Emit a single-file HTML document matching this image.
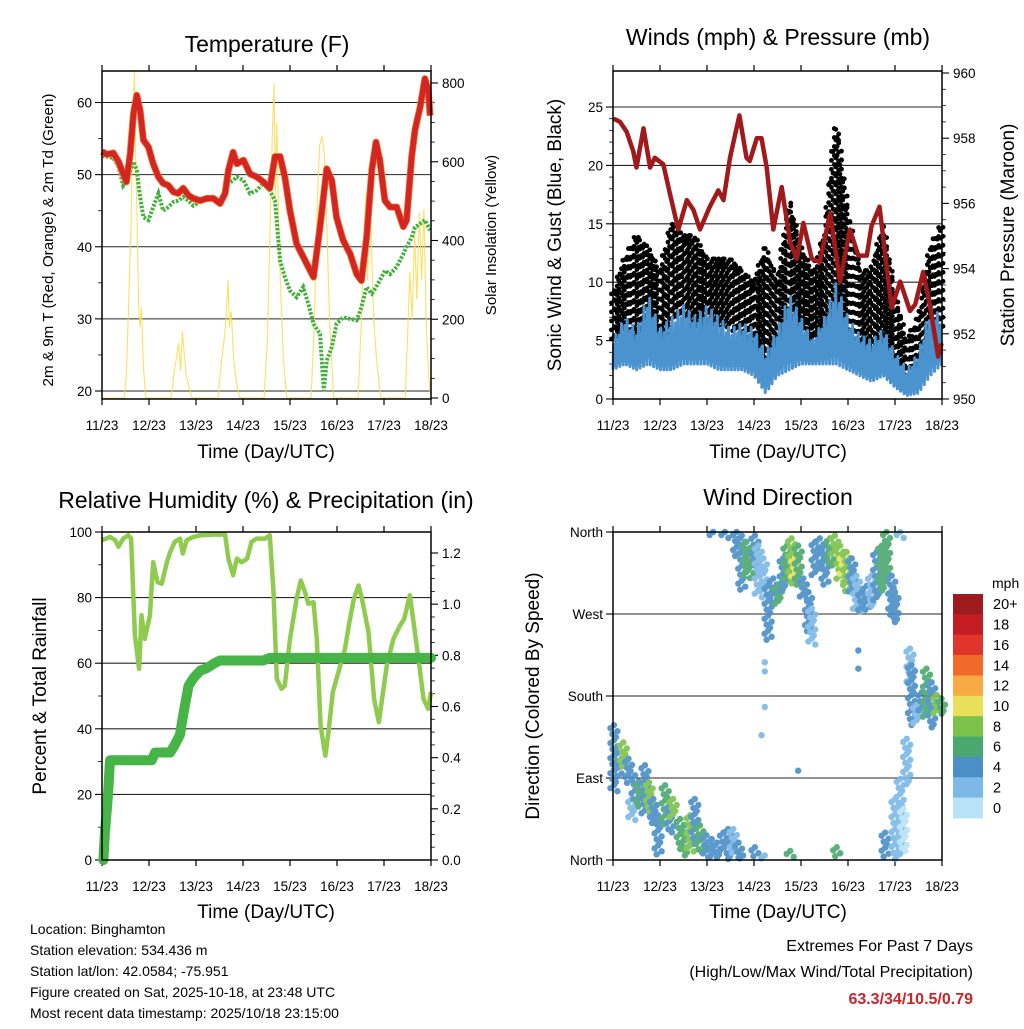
<!DOCTYPE html>
<html><head><meta charset="utf-8">
<style>
body{margin:0;background:#fff;}
svg text{font-family:"Liberation Sans",sans-serif;fill:#000;}
</style></head>
<body>
<svg id="c" width="1024" height="1024" viewBox="0 0 1024 1024" xmlns="http://www.w3.org/2000/svg">
<rect width="1024" height="1024" fill="#fff"/>
<text x="267" y="52" font-size="23" text-anchor="middle">Temperature (F)</text>
<text x="778" y="45" font-size="23" text-anchor="middle">Winds (mph) &amp; Pressure (mb)</text>
<text x="266" y="508" font-size="23" text-anchor="middle">Relative Humidity (%) &amp; Precipitation (in)</text>
<text x="778" y="505" font-size="23" text-anchor="middle">Wind Direction</text>
<text x="266" y="458" font-size="19" text-anchor="middle">Time (Day/UTC)</text>
<text x="778" y="458" font-size="19" text-anchor="middle">Time (Day/UTC)</text>
<text x="266" y="918" font-size="19" text-anchor="middle">Time (Day/UTC)</text>
<text x="778" y="918" font-size="19" text-anchor="middle">Time (Day/UTC)</text>
<text transform="translate(53,240) rotate(-90)" font-size="15.2" text-anchor="middle">2m &amp; 9m T (Red, Orange) &amp; 2m Td (Green)</text>
<text transform="translate(496,235) rotate(-90)" font-size="15" text-anchor="middle">Solar Insolation (Yellow)</text>
<text transform="translate(561,235) rotate(-90)" font-size="19" text-anchor="middle">Sonic Wind &amp; Gust (Blue, Black)</text>
<text transform="translate(1014,235) rotate(-90)" font-size="19" text-anchor="middle">Station Pressure (Maroon)</text>
<text transform="translate(46,696) rotate(-90)" font-size="19" text-anchor="middle">Percent &amp; Total Rainfall</text>
<text transform="translate(539,696) rotate(-90)" font-size="19" text-anchor="middle">Direction (Colored By Speed)</text>
<g font-size="14">
<text x="30" y="934">Location: Binghamton</text>
<text x="30" y="955">Station elevation: 534.436 m</text>
<text x="30" y="976">Station lat/lon: 42.0584; -75.951</text>
<text x="30" y="997">Figure created on Sat, 2025-10-18, at 23:48 UTC</text>
<text x="30" y="1018">Most recent data timestamp: 2025/10/18 23:15:00</text>
</g>
<g font-size="16" text-anchor="end">
<text x="973" y="951">Extremes For Past 7 Days</text>
<text x="973" y="977">(High/Low/Max Wind/Total Precipitation)</text>
<text x="973" y="1004" font-weight="bold" style="fill:#c8262a">63.3/34/10.5/0.79</text>
</g>
</svg>
<script>
// ---------- DATA ----------
const dayLabels = ["11/23","12/23","13/23","14/23","15/23","16/23","17/23","18/23"];
const tempTicks = [20,30,40,50,60];
const solarTicks = [0,200,400,600,800];
const windTicks = [0,5,10,15,20,25];
const pressTicks = [950,952,954,956,958,960];
const rhTicks = [0,20,40,60,80,100];
const precipTicks = [0.0,0.2,0.4,0.6,0.8,1.0,1.2];
const dirTicks = ["North","East","South","West","North"];
const speedBins = ["0","2","4","6","8","10","12","14","16","18","20+"];

const tempTimes = [0,0.10,0.24,0.35,0.45,0.52,0.60,0.67,0.74,0.81,0.88,0.99,1.09,1.20,1.30,1.41,1.52,1.62,1.73,1.84,1.94,2.09,2.23,2.37,2.51,2.62,2.69,2.79,2.87,3.01,3.15,3.29,3.43,3.57,3.68,3.79,3.89,4.0,4.14,4.28,4.39,4.50,4.64,4.78,4.89,4.99,5.13,5.28,5.42,5.52,5.63,5.74,5.83,5.91,6.02,6.13,6.27,6.41,6.48,6.59,6.66,6.77,6.87,6.94,6.98];
const tempVals = [53.2,52.8,53,51.8,50.1,49,52.9,58.5,61,58.9,54.8,53.8,51.5,49.7,48.8,48.5,47.6,47.4,48.1,47.1,46.7,46.4,46.7,46.7,46,47.4,50.6,53.1,51.5,52,50.1,49.7,49,48.1,52.5,52.5,49.7,45,40.4,38.6,37.2,35.8,42.8,50.8,49.2,44.1,40.9,39,36.2,35.3,41.3,50.6,54.5,52,46.4,45.5,45.5,42.8,43.7,52.5,56.2,59.4,63.3,61.7,58.2];
const dewTimes = [0,0.10,0.24,0.35,0.45,0.52,0.60,0.67,0.74,0.81,0.88,0.99,1.09,1.20,1.30,1.41,1.52,1.62,1.73,1.84,1.94,2.09,2.23,2.37,2.51,2.62,2.69,2.79,2.87,3.01,3.15,3.29,3.43,3.57,3.68,3.79,3.89,4.0,4.14,4.28,4.39,4.50,4.64,4.72,4.78,4.89,4.99,5.13,5.28,5.42,5.52,5.63,5.74,5.83,5.91,6.02,6.13,6.27,6.41,6.48,6.59,6.66,6.77,6.87,6.98];
const dewVals = [52.6,52.5,52.3,51.1,48.5,49.2,50.6,51.8,50.6,46.9,44.1,43.7,45.5,47.4,45,45.5,46.2,46.4,46.9,46.4,45.7,46.2,46.5,46.7,46,47.8,48.8,49.2,49.7,49.2,47.4,47.8,48.8,47.8,46.4,38.1,35.8,33.9,33,34.4,32.1,29.3,27.9,20,24.2,26.1,29.3,30.2,30,29.8,31.6,34.4,33.5,34.4,35.3,36.7,36.2,37.2,39,40,41.3,42.7,43.2,43.7,42.3];
const solarTimes = [0,0.47,0.52,0.57,0.62,0.66,0.69,0.72,0.75,0.78,0.81,0.84,0.88,0.93,1.47,1.53,1.58,1.63,1.67,1.71,1.75,1.79,1.85,1.92,2.47,2.53,2.6,2.64,2.68,2.71,2.75,2.8,2.86,2.93,3.45,3.52,3.57,3.62,3.66,3.69,3.72,3.76,3.8,3.86,3.93,4.45,4.52,4.58,4.63,4.68,4.73,4.78,4.84,4.93,5.45,5.52,5.57,5.62,5.65,5.7,5.74,5.78,5.84,5.93,6.45,6.5,6.55,6.6,6.65,6.7,6.75,6.8,6.85,6.9,6.95,7];
const solarVals = [0,0,60,250,450,700,830,600,420,230,180,230,80,0,0,60,100,140,70,170,110,60,30,0,0,80,150,200,300,180,220,100,40,0,0,150,400,650,800,500,700,450,280,100,0,0,200,500,640,665,620,450,200,0,0,200,400,520,300,540,350,200,100,0,0,150,320,200,420,250,470,300,480,180,50,0];

const pressTimes = [0.01,0.15,0.29,0.43,0.50,0.65,0.79,0.89,1.07,1.21,1.39,1.57,1.71,1.85,2.06,2.24,2.35,2.49,2.69,2.84,2.91,3.06,3.16,3.27,3.41,3.59,3.77,3.91,4.05,4.23,4.40,4.62,4.83,5.04,5.22,5.40,5.50,5.67,5.82,5.93,6.11,6.32,6.43,6.60,6.74,6.92,6.99];
const pressVals = [958.6,958.5,958.2,957.6,957.1,958.3,957.1,957.4,957.2,956.3,955.2,956.1,955.8,955.2,955.9,956.4,956.1,957.4,958.7,957.4,957.3,958,958,957.1,955.2,956.5,954.8,954.3,955.4,954.3,954.2,955.7,953.6,955.2,954.4,954.4,955.3,955.9,954.1,952.8,953.6,952.7,952.9,953.9,952.9,951.3,951.7];
const windTimes = [0,0.25,0.5,0.75,1,1.25,1.5,1.75,2,2.25,2.5,2.75,3,3.25,3.5,3.75,4,4.25,4.5,4.75,5,5.25,5.5,5.75,6,6.25,6.5,6.75,7];
const windHi = [5,7,6,9,6,7,8,7,8,7,6,6.5,6,4,6,9,7,5,7,10,7,5.5,5,6,4,2.5,4,8,7];
const windLo = [2.5,3,2.5,3,2.5,2.5,3,3,3,2.5,2.5,2.5,2,0.5,2,2.5,3,3,3,3,2.5,2,1.5,2,1,0.3,0.5,2,3];
const gustHi = [9,12,14,13,11,15,14,14,12,12,12,11,10,13,10,17,13,11,14,24,16,11,11,15,9,5,7,13,15];
const gustLo = [5,6,5,5,4,7,7,6,6,6,6,5,4,1,4,6,6,5,6,7,5,4,3,4,2,1,1,5,6];

const rhTimes = [0,0.17,0.28,0.35,0.45,0.56,0.62,0.70,0.79,0.84,0.91,1.02,1.09,1.18,1.27,1.38,1.45,1.55,1.66,1.72,1.80,1.94,2.09,2.37,2.62,2.69,2.79,2.87,2.97,3.09,3.18,3.29,3.47,3.57,3.65,3.72,3.82,3.89,4.0,4.14,4.23,4.32,4.39,4.50,4.57,4.65,4.75,4.82,4.91,5.17,5.25,5.36,5.46,5.53,5.67,5.79,5.89,6.06,6.20,6.34,6.43,6.55,6.62,6.77,6.84,6.94,7.0];
const rhVals = [97.5,98.5,97.5,95.5,98,99,98,68.5,58.3,74.6,67.4,74.6,90.8,84.7,84.2,90.8,93.9,97,98,93.4,97.5,98.5,99,99.2,99.2,91.9,86.8,91.9,90.8,91.9,97,98,98,99,81.7,55.2,52.2,53.2,67.4,79.7,85.2,81.7,78.1,78.6,67.4,41,31.8,39,51.2,64.4,71.5,79.7,83.7,79.7,69.5,49.1,42,59.3,67.4,71.5,73.5,80.7,73.5,57.3,49.1,46.1,51.2];
const precipTimes = [0.03,0.06,0.13,0.17,1.06,1.13,1.45,1.55,1.66,1.73,1.84,1.94,2.09,2.23,2.40,2.51,3.43,3.57,7.0];
const precipVals = [0,0.1,0.26,0.39,0.39,0.42,0.42,0.45,0.49,0.57,0.68,0.71,0.74,0.75,0.77,0.78,0.78,0.79,0.79];

const dirTimes = [0.02,0.11,0.22,0.33,0.40,0.47,0.57,0.68,0.77,0.86,0.96,1.11,1.21,1.28,1.43,1.53,1.64,1.74,1.85,1.99,2.10,2.21,2.35,2.45,2.56,2.67,2.77,3.02,3.23,3.77,4.76,5.79,6.0,6.11,6.18,6.25,6.32,6.35,6.46,6.57,6.67,6.78,6.89,6.99,
 2.13,2.38,2.63,2.74,2.84,2.91,3.02,3.09,3.2,3.30,3.41,3.52,3.62,3.70,3.80,3.87,3.94,4.05,4.16,4.23,4.30,4.40,4.51,4.62,4.72,4.83,4.90,4.97,5.08,5.18,5.29,5.40,5.50,5.61,5.72,5.82,5.93,6.0,6.11,
 3.23,3.23,3.23,3.16,3.94,5.22,5.22];
const dirLow = [74,89,100,82,41,63,56,49,49,38,5,38,30,45,12,5,8,16,8,1,1,1,5,1,5,1,1,1,1,1,1,3,1,5,8,82,192,148,148,159,155,144,159,159,
 356,353,331,294,309,312,323,290,287,239,280,280,294,305,301,309,301,283,250,235,312,320,301,323,331,305,309,294,294,272,272,272,276,283,294,305,265,261,353,
 217,207,168,137,98,230,210];
const dirHigh = [148,118,129,111,67,93,85,104,85,67,49,82,60,67,45,38,49,67,38,27,23,19,30,34,34,19,5,14,5,10,14,30,67,89,56,133,232,214,170,184,210,195,181,177,
 360,360,360,356,349,338,356,345,331,301,309,301,331,345,353,331,345,309,294,276,349,353,345,353,356,345,334,338,331,312,294,301,312,338,345,360,312,294,360,
 217,207,168,137,98,230,210];
const dirSpeed = [3,4,7,4,2,4,6,4,8,3,4,6,4,8,6,6,7,4,6,4,4,4,3,4,2,4,4,3,2,6,6,4,1,2,0,2,1,3,2,4,5,4,7,6,
 4,4,4,4,5,6,3,2,1,3,4,5,4,6,7,10,6,4,4,2,4,4,4,6,8,8,10,8,4,2,4,3,2,4,5,6,4,3,1,
 1,1,1,2,3,3,3];

// ---------- RENDER ----------
const NS = "http://www.w3.org/2000/svg";
const svg = document.getElementById('c');
function mk(tag, attrs, parent){ const e=document.createElementNS(NS,tag); for(const k in attrs) e.setAttribute(k,attrs[k]); (parent||svg).appendChild(e); return e; }
function lin(d0,d1,r0,r1){ return v => r0 + (v-d0)*(r1-r0)/(d1-d0); }
const binColors = ["#b8e2f8","#7cb9e6","#4a8fc8","#4aa86e","#7cc24a","#e8e05a","#f8aa45","#f26a2a","#e0352a","#c41e24","#9b1b1e"];

function frame(p, name){
  const g = mk('g',{});
  
  
  const xs = lin(0,7,p.x0,p.x1);
  dayLabels.forEach((lab,i)=>{
    const x = xs(i);
    mk('line',{x1:x,x2:x,y1:p.y1,y2:p.y1+6,stroke:'#000','stroke-width':1.2},g);
    mk('line',{x1:x,x2:x,y1:p.y0,y2:p.y0-6,stroke:'#000','stroke-width':1.2},g);
    const t = mk('text',{x:x,y:p.y1+31,'font-size':13.5,'text-anchor':'middle'},g);
    t.textContent = lab;
    
    
  });
  return {g, xs};
}
function yAxis(g, p, ticks, ys, side, grid, fmt, minor){
  ticks.forEach((v,i)=>{
    const y = ys(v);
    if(grid) mk('line',{x1:p.x0,x2:p.x1,y1:y,y2:y,stroke:'#000','stroke-width':1.1,opacity:0.85},g);
    const x = side==='l'?p.x0:p.x1, d = side==='l'?-7:7;
    mk('line',{x1:x,x2:x+d,y1:y,y2:y,stroke:'#000','stroke-width':1.1},g);
    const t = mk('text',{x: side==='l'? x-10 : x+11, y:y+5,'font-size':13.5,'text-anchor': side==='l'?'end':'start'},g);
    t.textContent = fmt?fmt(v):v;
    
    
    if(minor && i<ticks.length-1){
      const step=(ticks[i+1]-v)/minor;
      for(let k=1;k<minor;k++){ const yy=ys(v+k*step); mk('line',{x1:x,x2:x+d*0.55,y1:yy,y2:yy,stroke:'#000','stroke-width':0.8},g); }
    }
  });
}
function border(p){ const r=mk('rect',{x:p.x0,y:p.y0,width:p.x1-p.x0,height:p.y1-p.y0,fill:'none',stroke:'#000','stroke-width':1.5});   }
function path(xsF, ysF, T, V){ return T.map((t,i)=>(i?'L':'M')+xsF(t).toFixed(1)+','+ysF(V[i]).toFixed(1)).join(''); }

// Panel 1: Temperature
const p1 = {x0:102,x1:431,y0:71,y1:399};
{
  const {g,xs} = frame(p1,'temperature');
  const ys = lin(20,60,391,102.5), yr = lin(0,800,398,83);
  yAxis(g,p1,tempTicks,ys,'l',true,null,2);
  yAxis(g,p1,solarTicks,yr,'r',false,null,4);
  const sol = mk('path',{d:path(xs,yr,solarTimes,solarVals),fill:'none',stroke:'#f7dc4a','stroke-width':1.1,opacity:0.85});
  
  
  const dew = mk('path',{d:path(xs,ys,dewTimes,dewVals),fill:'none',stroke:'#44b03d','stroke-width':4,'stroke-dasharray':'2.5 1.5'});
  
  
  const or = mk('path',{d:path(xs,ys,tempTimes,tempVals),fill:'none',stroke:'#f27a2a','stroke-width':7,'stroke-linejoin':'round'});
  
  
  const red = mk('path',{d:path(xs,ys,tempTimes,tempVals),fill:'none',stroke:'#d42525','stroke-width':5.5,'stroke-linejoin':'round'});
  
  
  border(p1);
}
// Panel 2: Winds
const p2 = {x0:613,x1:942,y0:71,y1:399};
{
  const {g,xs} = frame(p2,'winds');
  const ys = lin(0,25,399,107), yr = lin(950,960,399,73);
  yAxis(g,p2,windTicks,ys,'l',true,null,5);
  yAxis(g,p2,pressTicks,yr,'r',false,null,4);
  const interp=(T,V,t)=>{ for(let i=1;i<T.length;i++){ if(t<=T[i]){ const f=(t-T[i-1])/(T[i]-T[i-1]); return V[i-1]+f*(V[i]-V[i-1]); } } return V[V.length-1]; };
  const gg = mk('g',{});
  
  
  let k=0;
  for(let t=0;t<=7.001;t+=0.03){
    const hi=interp(windTimes,gustHi,t), lo=interp(windTimes,gustLo,t);
    const yh=ys(hi), yl=ys(lo);
    const off=(k%4)*2.6;
    for(let y=yh+off; y<=yl; y+=9){ mk('circle',{cx:xs(t)+((k%2)?1.5:-1.5),cy:y,r:2.4,fill:'#000'},gg); }
    if(k%2===0) mk('circle',{cx:xs(t),cy:yh+(k%3)*3,r:2.4,fill:'#000'},gg);
    k++;
  }
  const bl = mk('g',{});
  
  
  let d='';
  k=0;
  for(let t=0;t<=7.001;t+=0.012){
    const hi=interp(windTimes,windHi,t), lo=interp(windTimes,windLo,t);
    const v = (k%2)? hi - (k%5)*0.35*(hi-lo)/2 : lo + (k%3)*0.2*(hi-lo)/2;
    d += (k?'L':'M')+xs(t).toFixed(1)+','+ys(v).toFixed(1);
    k++;
  }
  mk('path',{d:d,fill:'none',stroke:'#4a93cf','stroke-width':3,'stroke-linejoin':'round'},bl);
  const pr = mk('path',{d:path(xs,yr,pressTimes,pressVals),fill:'none',stroke:'#a01a1c','stroke-width':4.5,'stroke-linejoin':'round'});
  
  
  border(p2);
}
// Panel 3: RH & precip
const p3 = {x0:102,x1:431,y0:532,y1:860};
{
  const {g,xs} = frame(p3,'humidity');
  const ys = lin(0,100,860,532), yr = lin(0,1.2,860,553);
  yAxis(g,p3,rhTicks,ys,'l',true,null,2);
  yAxis(g,p3,precipTicks,yr,'r',false,v=>v.toFixed(1),4);
  const rh = mk('path',{d:path(xs,ys,rhTimes,rhVals),fill:'none',stroke:'#8fcb4f','stroke-width':4.5,'stroke-linejoin':'round'});
  
  
  const pc = mk('path',{d:path(xs,yr,precipTimes,precipVals),fill:'none',stroke:'#46b446','stroke-width':10,'stroke-linejoin':'round','stroke-linecap':'round'});
  
  
  border(p3);
}
// Panel 4: Wind direction
const p4 = {x0:613,x1:942,y0:532,y1:860};
{
  const {g,xs} = frame(p4,'wind-direction');
  const ys = lin(0,360,860,532);
  dirTicks.forEach((lab,i)=>{
    const y = ys(i*90);
    mk('line',{x1:p4.x0,x2:p4.x1,y1:y,y2:y,stroke:'#000','stroke-width':1.1,opacity:0.85},g);
    mk('line',{x1:p4.x0,x2:p4.x0-7,y1:y,y2:y,stroke:'#000','stroke-width':1.1},g);
    const t = mk('text',{x:p4.x0-10,y:y+5,'font-size':13.5,'text-anchor':'end'},g);
    t.textContent = lab;
    
    
  });
  const dg = mk('g',{opacity:0.9});
  
  
  const offs = [0,-3.5,3.5,-1.5,2];
  dirTimes.forEach((t,i)=>{
    const bin = Math.min(10, Math.round(dirSpeed[i]/2));
    const col = binColors[bin];
    const yh = ys(dirHigh[i]), yl = ys(dirLow[i]);
    let j=0;
    for(let y=yh; y<=yl+0.1; y+=3){
      mk('circle',{cx:xs(t)+offs[j%5],cy:y,r:3.2,fill:col},dg);
      j++;
    }
    if(j===0) mk('circle',{cx:xs(t),cy:yh,r:3,fill:col},dg);
  });
  border(p4);
  // colorbar
  const cb = mk('g',{});
  
  
  const tm = mk('text',{x:992,y:588,'font-size':14},cb);
  tm.textContent='mph';
  const bh = 224/speedBins.length;
  speedBins.slice().reverse().forEach((lab,i)=>{
    const y = 594 + i*bh;
    mk('rect',{x:953,y:y,width:30,height:bh+0.3,fill:binColors[10-i]},cb);
    const t = mk('text',{x:993,y:y+bh/2+5,'font-size':14.5},cb);
    t.textContent = lab;
    
    
  });
}
</script>
</body></html>
